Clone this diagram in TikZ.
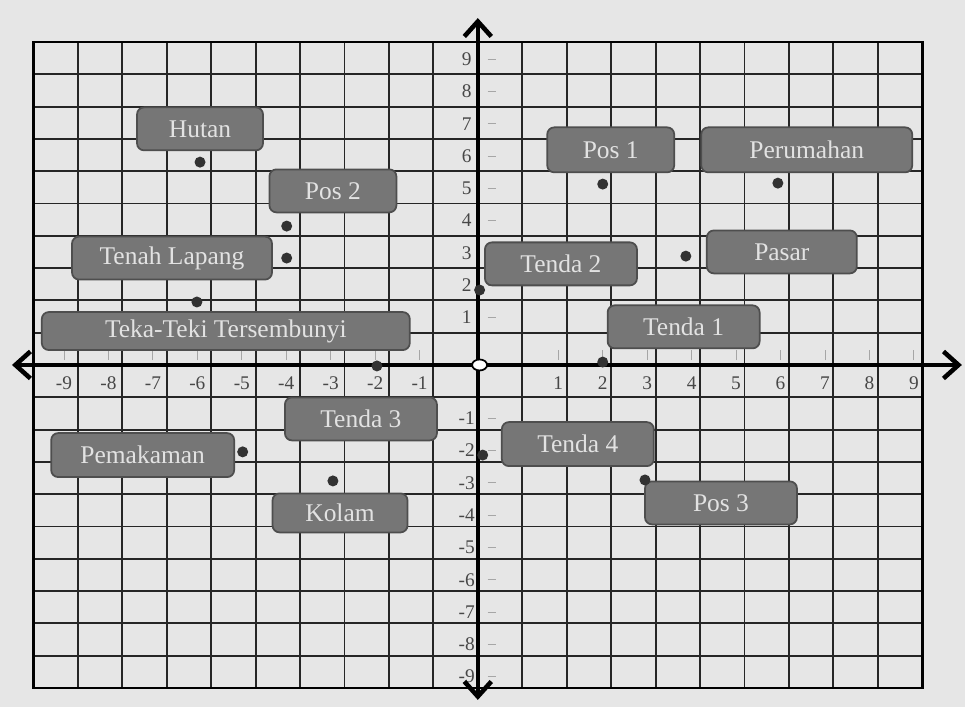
\documentclass[tikz,border=0pt]{standalone}
\usepackage{fontspec}
\setmainfont{Liberation Serif}
\usepackage{tikz}
\usepackage{xcolor}
\usetikzlibrary{arrows.meta, positioning, shapes.geometric}
\definecolor{cPaper}{RGB}{230,230,230}
\definecolor{cBox}{RGB}{118,118,118}
\definecolor{cBoxEdge}{RGB}{78,78,78}
\definecolor{cBoxText}{RGB}{226,226,226}
\definecolor{cDot}{RGB}{50,50,50}
\tikzset{
	gridline/.style ={line width=1.1pt, black!85},
	frameline/.style={line width=1.6pt, black},
	axisline/.style ={line width=2.6pt, {Straight Barb[length=3mm, width=5.4mm]}-{Straight Barb[length=3mm, width=5.4mm]}},
	tickmark/.style ={line width=0.5pt, black!35},
	ticklbl/.style  ={inner sep=0pt, text=black!72, font=\fontsize{11}{12}\selectfont},
	place/.style    ={rectangle, rounded corners=4pt, draw=cBoxEdge, line width=1pt, fill=cBox, text=cBoxText, minimum height=0.86cm, inner sep=2pt, font=\fontsize{14.5}{16}\selectfont},
	spot/.style     ={circle, fill=cDot, inner sep=0pt, minimum size=0.22cm},
	origin/.style   ={ellipse, draw=black, line width=1pt, fill=white, minimum width=0.3cm, minimum height=0.22cm, inner sep=0pt},
}

\begin{document}
\begin{tikzpicture}[x=0.889cm, y=0.646cm]
	% paper
	\fill[cPaper] (-10.75,-10.59) rectangle (10.96,11.30);
	\useasboundingbox (-10.75,-10.59) rectangle (10.96,11.30);
	% grid and frame
	\foreach \k in {-9,...,9} {
		\draw[gridline] (\k,-10) -- (\k,10);
		\draw[gridline] (-10,\k) -- (10,\k);
	}
	\draw[frameline] (-10,-10) rectangle (10,10);
	% faint ticks and their numbers
	\foreach \n in {1,...,9} {
		\draw[tickmark] (\n+0.81,0.15) -- (\n+0.81,0.45);
		\draw[tickmark] (-\n-0.31,0.15) -- (-\n-0.31,0.45);
		\draw[tickmark] (0.22,\n+0.47) -- (0.4,\n+0.47);
		\draw[tickmark] (0.22,-\n-0.65) -- (0.4,-\n-0.65);
		\node[ticklbl] (xp\n) at (\n+0.81,-0.56) {\n};
		\node[ticklbl] (xn\n) at (-\n-0.31,-0.56) {-\n};
		\node[ticklbl] (yp\n) at (-0.25,\n+0.47) {\n};
		\node[ticklbl] (yn\n) at (-0.25,-\n-0.65) {-\n};
	}
	% axes
	\draw[axisline] (-10.48,0) -- (10.89,0);
	\draw[axisline] (0,-10.37) -- (0,10.74);
	\node[origin] (o) at (0.04,0) {};
	% places
	\node[place, minimum width=2.52cm] (hutan)  at (-6.25,7.31) {Hutan};
	\node[place, minimum width=2.54cm] (pos2)   at (-3.26,5.39) {Pos 2};
	\node[place, minimum width=4.0cm]  (lapang) at (-6.88,3.31) {Tenah Lapang};
	\node[place, minimum width=7.36cm, minimum height=0.76cm] (teka) at (-5.67,1.05) {Teka-Teki Tersembunyi};
	\node[place, minimum width=2.54cm, minimum height=0.9cm] (pos1) at (2.99,6.66) {Pos 1};
	\node[place, minimum width=4.22cm, minimum height=0.9cm] (rumah) at (7.40,6.66) {Perumahan};
	\node[place, minimum width=3.04cm] (tenda2) at (1.87,3.13) {Tenda 2};
	\node[place, minimum width=3.0cm]  (pasar)  at (6.84,3.50) {Pasar};
	\node[place, minimum width=3.04cm] (tenda1) at (4.63,1.18) {Tenda 1};
	\node[place, minimum width=3.04cm] (tenda3) at (-2.63,-1.67) {Tenda 3};
	\node[place, minimum width=3.66cm, minimum height=0.88cm] (makam) at (-7.54,-2.79) {Pemakaman};
	\node[place, minimum width=2.7cm, minimum height=0.78cm] (kolam) at (-3.10,-4.58) {Kolam};
	\node[place, minimum width=3.04cm, minimum height=0.88cm] (tenda4) at (2.25,-2.45) {Tenda 4};
	\node[place, minimum width=3.04cm] (pos3)   at (5.47,-4.27) {Pos 3};
	% points
	\node[spot] (pHutan)  at (-6.25,6.28) {};
	\node[spot] (pPos2)   at (-4.30,4.30) {};
	\node[spot] (pLapang) at (-4.30,3.31) {};
	\node[spot] (pTeka)   at (-6.32,1.95) {};
	\node[spot] (pAxis)   at (-2.27,-0.03) {};
	\node[spot] (pTenda2) at (0.04,2.32) {};
	\node[spot] (pPos1)   at (2.81,5.60) {};
	\node[spot] (pRumah)  at (6.75,5.63) {};
	\node[spot] (pPasar)  at (4.68,3.37) {};
	\node[spot] (pTenda1) at (2.81,0.09) {};
	\node[spot] (pMakam)  at (-5.29,-2.69) {};
	\node[spot] (pKolam)  at (-3.26,-3.59) {};
	\node[spot] (pTenda4) at (0.11,-2.79) {};
	\node[spot] (pPos3)   at (3.76,-3.56) {};
\end{tikzpicture}
\end{document}
